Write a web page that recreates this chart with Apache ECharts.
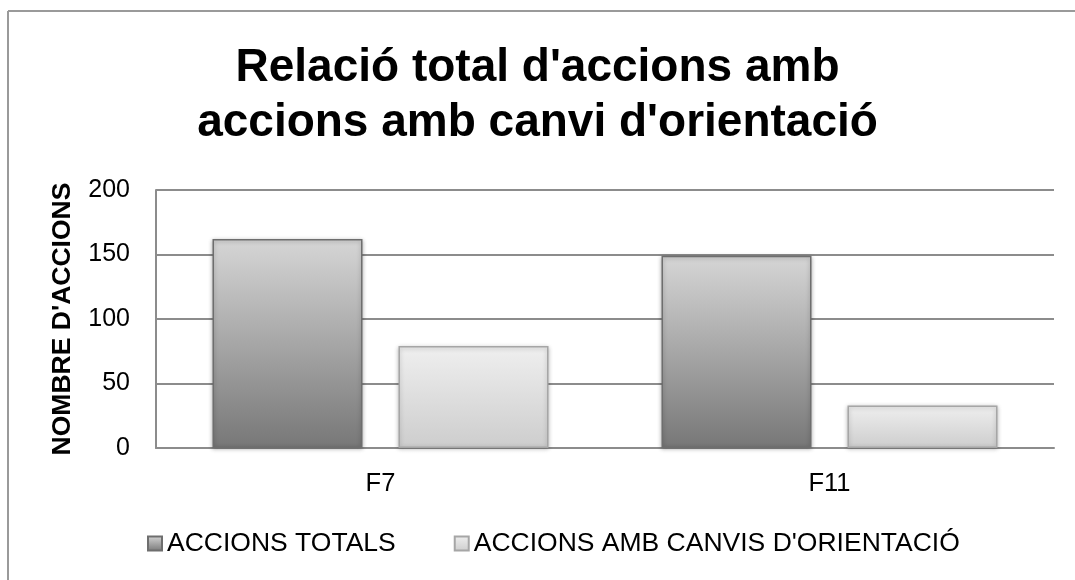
<!DOCTYPE html>
<html>
<head>
<meta charset="utf-8">
<script src="https://cdn.jsdelivr.net/npm/echarts@6/dist/echarts.min.js"></script>
<style>
  html, body { margin: 0; padding: 0; background: #fff; }
  #chart { width: 1075px; height: 580px; }
</style>
</head>
<body>
<div id="chart"></div>
<script>
var categories = ['F7', 'F11'];
var seriesNames = ['ACCIONS TOTALS', "ACCIONS AMB CANVIS D'ORIENTACIÓ"];
var totalActions = [162, 149];
var orientationActions = [79, 33];
var yTicks = [0, 50, 100, 150, 200];

var font = '"Liberation Sans", Arial, sans-serif';

function grad(top, bottom){
    return new echarts.graphic.LinearGradient(0, 0, 0, 1, [
        {offset: 0, color: top},
        {offset: 1, color: bottom}
    ]);
}

var chart = echarts.init(document.getElementById('chart'));

chart.setOption({
    backgroundColor: '#fff',
    animation: false,
    title: {
        text: "Relació total d'accions amb\naccions amb canvi d'orientació",
        left: 'center',
        top: 36,
        textStyle: {
            fontFamily: font,
            fontSize: 46,
            fontWeight: 'bold',
            color: '#000',
            lineHeight: 55
        }
    },
    legend: {
        left: 142,
        top: 525,
        itemWidth: 14,
        itemHeight: 14,
        itemGap: 58,
        icon: 'rect',
        textStyle: {fontFamily: font, fontSize: 26.5, color: '#000'},
        data: seriesNames
    },
    grid: {left: 156, right: 21, top: 190, bottom: 132},
    xAxis: {
        type: 'category',
        data: categories,
        axisLine: {show: true, lineStyle: {color: '#8c8c8c', width: 2}},
        axisTick: {show: false},
        axisLabel: {fontFamily: font, fontSize: 25.5, color: '#000', margin: 23}
    },
    yAxis: {
        type: 'value',
        min: yTicks[0],
        max: yTicks[yTicks.length - 1],
        interval: yTicks[1] - yTicks[0],
        name: "NOMBRE D'ACCIONS",
        nameLocation: 'middle',
        nameGap: 80,
        nameTextStyle: {fontFamily: font, fontSize: 26.5, fontWeight: 'bold', color: '#000'},
        axisLine: {show: true, lineStyle: {color: '#8c8c8c', width: 2}},
        axisTick: {show: false},
        axisLabel: {fontFamily: font, fontSize: 25, color: '#000', margin: 26},
        splitLine: {lineStyle: {color: '#8c8c8c', width: 2}}
    },
    series: [
        {
            name: seriesNames[0],
            type: 'bar',
            data: totalActions,
            barWidth: 150,
            barGap: '24%',
            itemStyle: {
                color: grad('#d6d6d6', '#777777'),
                borderColor: '#6e6e6e',
                borderWidth: 1.5,
                shadowColor: 'rgba(0,0,0,0.3)',
                shadowBlur: 4,
                shadowOffsetY: 1
            }
        },
        {
            name: seriesNames[1],
            type: 'bar',
            data: orientationActions,
            barWidth: 150,
            itemStyle: {
                color: grad('#efefef', '#cdcdcd'),
                borderColor: '#a6a6a6',
                borderWidth: 1.5,
                shadowColor: 'rgba(0,0,0,0.25)',
                shadowBlur: 4,
                shadowOffsetY: 1
            }
        }
    ],
    graphic: [
        {type: 'line', shape: {x1: 8, y1: 11, x2: 1075, y2: 11}, style: {stroke: '#9a9a9a', lineWidth: 2}},
        {type: 'line', shape: {x1: 8, y1: 11, x2: 8, y2: 580}, style: {stroke: '#9a9a9a', lineWidth: 2}}
    ]
});
</script>
</body>
</html>
